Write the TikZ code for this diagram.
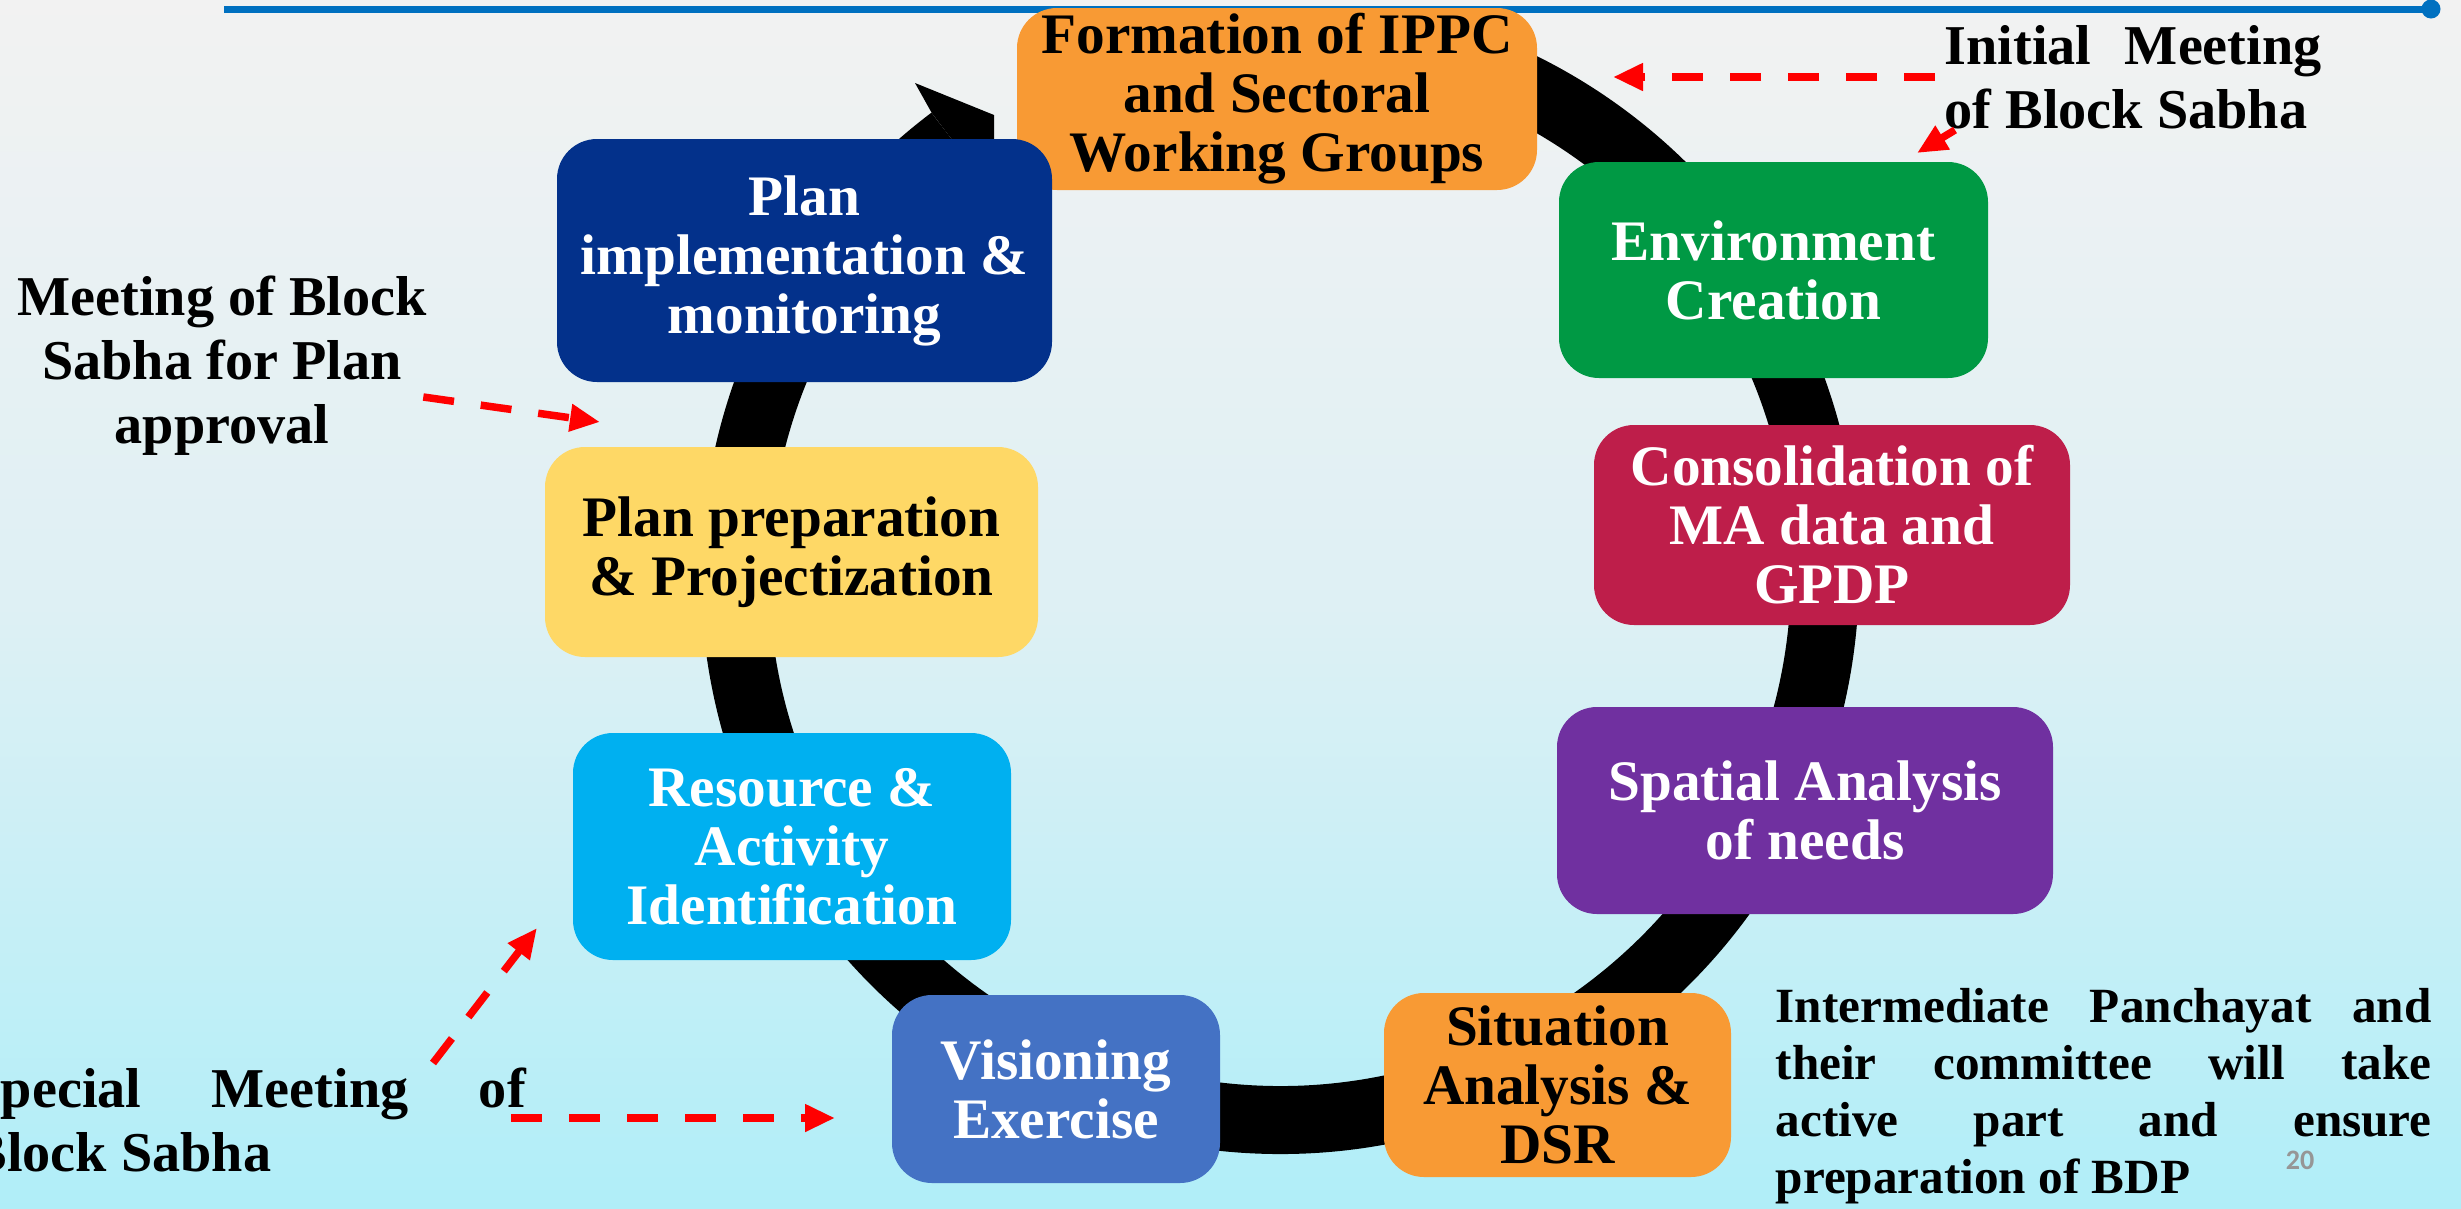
\documentclass[tikz,border=0pt]{standalone}
\usepackage{fontspec}
\setmainfont{Liberation Serif}
\newfontfamily\numfont{Carlito}
\usetikzlibrary{arrows.meta,calc,positioning}

\definecolor{ippcorange}{RGB}{248,154,52}
\definecolor{implblue}{RGB}{3,49,139}
\definecolor{prepyellow}{RGB}{254,216,102}
\definecolor{resocyan}{RGB}{0,176,240}
\definecolor{visiblue}{RGB}{68,114,196}
\definecolor{spatpurple}{RGB}{112,48,160}
\definecolor{conscrimson}{RGB}{190,30,74}
\definecolor{envigreen}{RGB}{0,153,68}
\definecolor{topline}{RGB}{0,112,192}
\definecolor{bgtop}{RGB}{242,242,242}
\definecolor{bgmid}{RGB}{222,240,244}
\definecolor{bgbottom}{RGB}{176,238,248}
\definecolor{slidegray}{RGB}{150,150,150}

\begin{document}
\begin{tikzpicture}[
    stage/.style={rectangle, rounded corners=0.4cm, inner sep=0pt, align=center,
      font=\fontsize{16.3}{16.8}\selectfont\bfseries},
    ring/.style={line width=0.68cm, black},
    cue/.style={red, line width=0.075cm, dash pattern=on 0.31cm off 0.27cm,
      -{Triangle[length=0.3cm,width=0.26cm]}},
    note/.style={inner sep=0pt, font=\fontsize{16}{18.2}\selectfont\bfseries}
  ]
  \useasboundingbox (0,0) rectangle (24.61,-12.09);
  \shade[top color=bgtop, bottom color=bgbottom, middle color=bgmid] (0,0) rectangle (24.61,-12.09);

  % title rule
  \coordinate (ruleL) at (2.24,-0.09);
  \coordinate (ruleR) at (24.31,-0.09);
  \draw[topline, line width=0.07cm] (ruleL) -- (ruleR);
  \fill[topline] (ruleR) circle[radius=0.095cm];

  % the cycle
  \coordinate (hub) at (12.80,-5.75);
  \draw[ring] ($(hub)+(127:5.45)$) arc[start angle=127, end angle=430, radius=5.45cm];
  \fill ($(hub)+(127:5.79)$) -- (9.15,-0.83) -- (9.94,-1.15) -- (9.94,-1.65) -- ($(hub)+(127:5.11)$) -- cycle;

  \node[stage, fill=ippcorange, minimum width=5.20cm, minimum height=1.82cm] (form) at (12.77,-0.99) {Formation of IPPC\\and Sectoral\\Working Groups};
  \node[stage, fill=envigreen, text=white, minimum width=4.29cm, minimum height=2.16cm] (envi) at (17.735,-2.70) {Environment\\Creation};
  \node[stage, fill=conscrimson, text=white, minimum width=4.76cm, minimum height=2.00cm] (cons) at (18.32,-5.25) {Consolidation of\\MA data and\\GPDP};
  \node[stage, fill=spatpurple, text=white, minimum width=4.96cm, minimum height=2.07cm] (spat) at (18.05,-8.105) {Spatial Analysis\\of needs};
  \node[stage, fill=ippcorange, minimum width=3.47cm, minimum height=1.84cm] (situ) at (15.575,-10.85) {Situation\\Analysis \&\\DSR};
  \node[stage, fill=visiblue, text=white, minimum width=3.28cm, minimum height=1.88cm] (visi) at (10.56,-10.89) {Visioning\\Exercise};
  \node[stage, fill=resocyan, text=white, minimum width=4.38cm, minimum height=2.27cm] (reso) at (7.92,-8.465) {Resource \&\\Activity\\Identification};
  \node[stage, fill=prepyellow, minimum width=4.93cm, minimum height=2.10cm] (prep) at (7.915,-5.52) {Plan preparation\\\& Projectization};
  \node[stage, fill=implblue, text=white, minimum width=4.95cm, minimum height=2.43cm] (impl) at (8.045,-2.605) {Plan\\implementation \&\\monitoring};

  % side notes
  \node[note, align=center] (approvalnote) at (2.22,-3.66) {Meeting of Block\\Sabha for Plan\\approval};
  \node[note, text width=3.77cm, align=justify, anchor=north west] (initnote) at (19.44,-0.25) {Initial Meeting\linebreak of Block Sabha};
  \node[note, text width=5.56cm, align=justify, anchor=north west] (specialnote) at (-0.31,-10.67) {Special Meeting of\linebreak Block Sabha};
  \node[note, font=\fontsize{14}{16.2}\selectfont\bfseries, text width=6.56cm, align=justify, anchor=north west] (bdpnote) at (17.75,-9.88)
    {Intermediate Panchayat and\linebreak their committee will take\linebreak active part and ensure\linebreak preparation of BDP};
  \node[inner sep=0pt, text=slidegray, font=\numfont\bfseries\fontsize{8}{9}\selectfont] (slideno) at (23.0,-11.60) {20};

  % red pointers
  \coordinate (approvaltip) at (6.00,-4.22);
  \coordinate (formtip) at (16.13,-0.77);
  \coordinate (envitip) at (19.17,-1.53);
  \coordinate (resotip) at (5.37,-9.28);
  \coordinate (visitip) at (8.35,-11.18);
  \draw[cue] ([shift={(-0.04,-0.31)}]approvalnote.east) -- (approvaltip);
  \draw[cue] ([shift={(-0.09,-0.52)}]initnote.north west) -- (formtip);
  \draw[cue] ([shift={(0.11,-1.05)}]initnote.north west) -- (envitip);
  \draw[cue] ([shift={(4.64,0.04)}]specialnote.north west) -- (resotip);
  \draw[cue] ([shift={(5.42,-0.51)}]specialnote.north west) -- (visitip);
\end{tikzpicture}
\end{document}
